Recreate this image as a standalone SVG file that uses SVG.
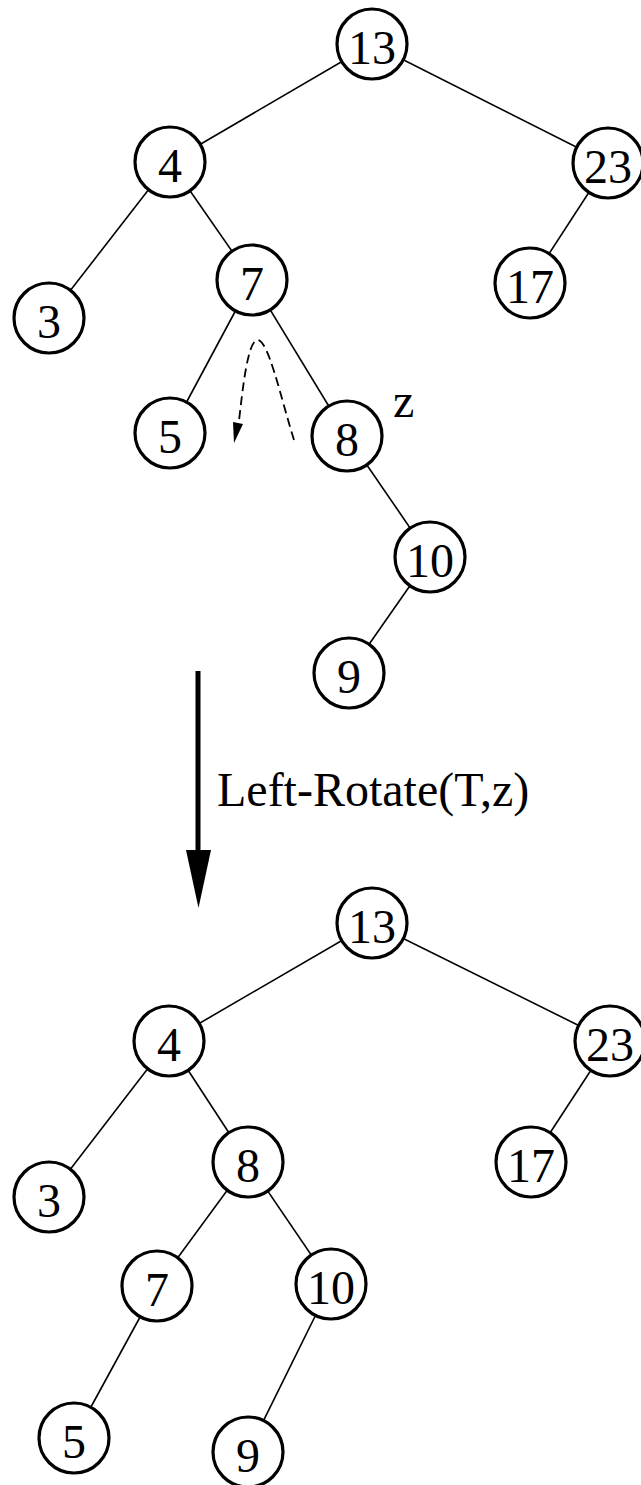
<svg xmlns="http://www.w3.org/2000/svg" width="641" height="1485" viewBox="0 0 641 1485">
<style>
.edge{stroke:#000;stroke-width:1.6;fill:none}
.node circle{fill:#fff;stroke:#000;stroke-width:3.2}
.node text,.lbl{font-family:"Liberation Serif","Times New Roman",serif;font-size:48px;fill:#000}
.node text{text-anchor:middle}
.dash{stroke:#000;stroke-width:1.8;fill:none;stroke-dasharray:9 5}
</style>
<rect width="641" height="1485" fill="#fff"/>
<g id="connectors">
<line class="edge" x1="372" y1="44" x2="170" y2="162"/>
<line class="edge" x1="372" y1="44" x2="608" y2="163"/>
<line class="edge" x1="170" y1="162" x2="49" y2="318"/>
<line class="edge" x1="170" y1="162" x2="252" y2="280"/>
<line class="edge" x1="608" y1="163" x2="530" y2="283"/>
<line class="edge" x1="252" y1="280" x2="170" y2="433"/>
<line class="edge" x1="252" y1="280" x2="347" y2="436"/>
<line class="edge" x1="347" y1="436" x2="430" y2="557"/>
<line class="edge" x1="430" y1="557" x2="349" y2="673"/>
<path class="dash" d="M294,440 C280,395 268,338 257,340 C248,342 243,385 239,421"/>
<polygon points="233,422 243,424 234,443" fill="#000"/>
<rect x="195.5" y="671" width="5" height="182" fill="#000"/>
<polygon points="186,850 211,850 198.5,908" fill="#000"/>
<line class="edge" x1="372" y1="923" x2="169" y2="1041"/>
<line class="edge" x1="372" y1="923" x2="610" y2="1041"/>
<line class="edge" x1="169" y1="1041" x2="49" y2="1197"/>
<line class="edge" x1="169" y1="1041" x2="248" y2="1162"/>
<line class="edge" x1="610" y1="1041" x2="531" y2="1162"/>
<line class="edge" x1="248" y1="1162" x2="157" y2="1286"/>
<line class="edge" x1="248" y1="1162" x2="331" y2="1284"/>
<line class="edge" x1="157" y1="1286" x2="74" y2="1438"/>
<line class="edge" x1="331" y1="1284" x2="248" y2="1452"/>
</g>
<text class="lbl" x="217" y="806">Left-Rotate(T,z)</text>
<text class="lbl" x="393" y="417">z</text>
<g id="t1-13" class="node"><circle cx="372" cy="44" r="35"/><text x="372" y="64">13</text></g>
<g id="t1-4" class="node"><circle cx="170" cy="162" r="35"/><text x="170" y="182">4</text></g>
<g id="t1-23" class="node"><circle cx="608" cy="163" r="35"/><text x="608" y="183">23</text></g>
<g id="t1-3" class="node"><circle cx="49" cy="318" r="35"/><text x="49" y="338">3</text></g>
<g id="t1-7" class="node"><circle cx="252" cy="280" r="35"/><text x="252" y="300">7</text></g>
<g id="t1-17" class="node"><circle cx="530" cy="283" r="35"/><text x="530" y="303">17</text></g>
<g id="t1-5" class="node"><circle cx="170" cy="433" r="35"/><text x="170" y="453">5</text></g>
<g id="t1-8" class="node"><circle cx="347" cy="436" r="35"/><text x="347" y="456">8</text></g>
<g id="t1-10" class="node"><circle cx="430" cy="557" r="35"/><text x="430" y="577">10</text></g>
<g id="t1-9" class="node"><circle cx="349" cy="673" r="35"/><text x="349" y="693">9</text></g>
<g id="t2-13" class="node"><circle cx="372" cy="923" r="35"/><text x="372" y="943">13</text></g>
<g id="t2-4" class="node"><circle cx="169" cy="1041" r="35"/><text x="169" y="1061">4</text></g>
<g id="t2-23" class="node"><circle cx="610" cy="1041" r="35"/><text x="610" y="1061">23</text></g>
<g id="t2-3" class="node"><circle cx="49" cy="1197" r="35"/><text x="49" y="1217">3</text></g>
<g id="t2-8" class="node"><circle cx="248" cy="1162" r="35"/><text x="248" y="1182">8</text></g>
<g id="t2-17" class="node"><circle cx="531" cy="1162" r="35"/><text x="531" y="1182">17</text></g>
<g id="t2-7" class="node"><circle cx="157" cy="1286" r="35"/><text x="157" y="1306">7</text></g>
<g id="t2-10" class="node"><circle cx="331" cy="1284" r="35"/><text x="331" y="1304">10</text></g>
<g id="t2-5" class="node"><circle cx="74" cy="1438" r="35"/><text x="74" y="1458">5</text></g>
<g id="t2-9" class="node"><circle cx="248" cy="1452" r="35"/><text x="248" y="1472">9</text></g>
</svg>
